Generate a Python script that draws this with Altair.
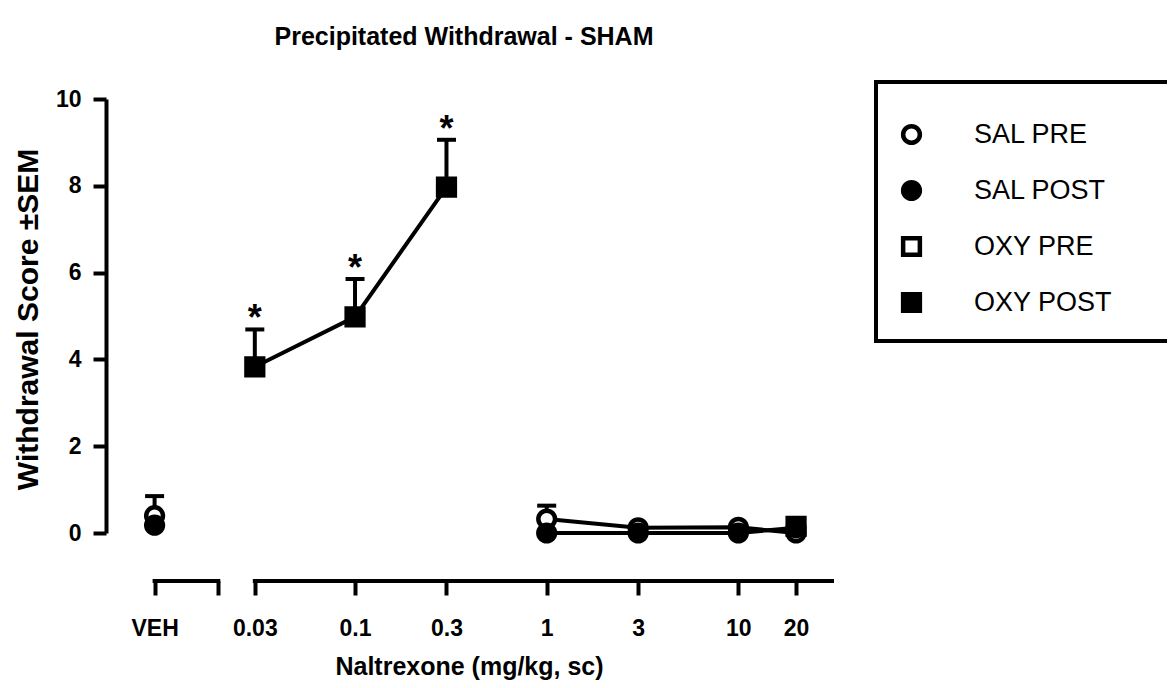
import altair as alt
import pandas as pd

FONT = "Liberation Sans"

# ---- data ----
chart_title = "Precipitated Withdrawal - SHAM"
dose_labels = ["VEH", "0.03", "0.1", "0.3", "1", "3", "10", "20"]
dose_pos = [0.009, 0.03, 0.1, 0.3, 1, 3, 10, 20]          # VEH drawn left of the axis break
dose_group = ["veh", "low", "low", "low", "high", "high", "high", "high"]

series_names = ["SAL PRE", "SAL POST", "OXY PRE", "OXY POST"]
series_fill = ["white", "black", "white", "black"]
series_shape = ["circle", "circle", "square", "square"]
series_stroke = ["black", "black", "black", "black"]

sal_pre = [0.40, None, None, None, 0.32, 0.12, 0.13, 0.00]
sal_pre_sem = [0.45, None, None, None, 0.31, 0.0, 0.0, 0.0]
sal_post = [0.18, None, None, None, 0.00, 0.00, 0.00, 0.12]
sal_post_sem = [0.0, None, None, None, 0.0, 0.0, 0.0, 0.0]
oxy_pre = [None, None, None, None, None, None, None, None]
oxy_pre_sem = [None, None, None, None, None, None, None, None]
oxy_post = [None, 3.83, 4.98, 7.97, None, None, None, 0.15]
oxy_post_sem = [None, 0.86, 0.87, 1.09, None, None, None, 0.0]
oxy_post_sig = [False, True, True, True, False, False, False, False]

# axis ticks (second value is the tick closing the VEH segment of the broken axis)
x_tick_values = [0.009, 0.01935, 0.03, 0.1, 0.3, 1, 3, 10, 20]
x_tick_labels = ["VEH", "", "0.03", "0.1", "0.3", "1", "3", "10", "20"]
x_domain = [0.00502, 30.8]
axis_seg_start = [0.009, 0.03]
axis_seg_end = [0.01935, 30.8]
y_ticks = [0, 2, 4, 6, 8, 10]

# ---- build table ----
rows = []
all_means = [sal_pre, sal_post, oxy_pre, oxy_post]
all_sems = [sal_pre_sem, sal_post_sem, oxy_pre_sem, oxy_post_sem]
for name, means, sems in zip(series_names, all_means, all_sems):
    for i, m in enumerate(means):
        if m is None:
            continue
        s = sems[i] or 0.0
        rows.append({
            "series": name,
            "dose": dose_labels[i],
            "x": dose_pos[i],
            "grp": dose_group[i],
            "y": m,
            "hi": m + s,
            "sem": s,
            "sig": bool(name == "OXY POST" and oxy_post_sig[i]),
        })
df = pd.DataFrame(rows)

W, H = 726, 434
AXIS_OFFSET = 48

label_expr = "{}[indexof({}, datum.value)]".format(
    "[" + ",".join("'%s'" % t for t in x_tick_labels) + "]",
    "[" + ",".join(repr(v) for v in x_tick_values) + "]",
)

x_enc = alt.X(
    "x:Q",
    scale=alt.Scale(type="log", domain=x_domain, nice=False),
    axis=alt.Axis(
        values=x_tick_values, labelExpr=label_expr, domain=False, grid=False,
        offset=AXIS_OFFSET, tickSize=14, tickWidth=4, tickColor="black",
        labelFontSize=23, labelFontWeight="bold", labelFont=FONT, labelColor="black",
        labelPadding=22, labelFlush=False, labelOverlap=False, labelBound=False,
        title="Naltrexone (mg/kg, sc)", titleFontSize=25, titleFontWeight="bold",
        titleFont=FONT, titleColor="black", titlePadding=14,
    ),
)
y_enc = alt.Y(
    "y:Q",
    scale=alt.Scale(domain=[0, 10], nice=False, zero=False),
    axis=alt.Axis(
        values=y_ticks, grid=False, domainColor="black", domainWidth=4,
        tickSize=13, tickWidth=4, tickColor="black",
        labelFontSize=23, labelFontWeight="bold", labelFont=FONT, labelColor="black",
        labelPadding=12, labelFlush=False,
        title="Withdrawal Score ±SEM", titleFontSize=30, titleFontWeight="bold",
        titleFont=FONT, titleColor="black", titleX=-63, titleY=220,
        titleAngle=270, titleBaseline="bottom", titleAlign="center",
    ),
)

base = alt.Chart(df)

lines = base.mark_line(color="black", strokeWidth=4).encode(
    x=x_enc, y=y_enc, detail=["series:N", "grp:N"], order="x:Q"
)

err_df = df[df["sem"] > 0]
err_rule = alt.Chart(err_df).mark_rule(color="black", strokeWidth=4).encode(
    x="x:Q", y="y:Q", y2="hi:Q"
)
err_cap = alt.Chart(err_df).mark_tick(
    color="black", orient="horizontal", size=19, thickness=4, opacity=1
).encode(x="x:Q", y="hi:Q")

legend_cfg = dict(
    title=None, orient="none", legendX=792, legendY=22, padding=0,
    symbolSize=280, symbolStrokeWidth=4.5, symbolStrokeColor="black",
    labelFontSize=27, labelFont=FONT, labelColor="black",
    labelOffset=49, rowPadding=21, labelLimit=400,
)

points = base.mark_point(
    filled=True, strokeWidth=4.5, size=280, opacity=1
).encode(
    x="x:Q",
    y="y:Q",
    shape=alt.Shape(
        "series:N",
        scale=alt.Scale(domain=series_names, range=series_shape),
        legend=alt.Legend(**legend_cfg),
    ),
    fill=alt.Fill(
        "series:N",
        scale=alt.Scale(domain=series_names, range=series_fill),
        legend=alt.Legend(**legend_cfg),
    ),
    stroke=alt.Stroke(
        "series:N",
        scale=alt.Scale(domain=series_names, range=series_stroke),
        legend=alt.Legend(**legend_cfg),
    ),
)

stars = alt.Chart(df[df["sig"]]).mark_text(
    text="*", fontSize=36, fontWeight="bold", font=FONT, color="black",
    baseline="alphabetic", align="center", dy=1
).encode(x="x:Q", y="hi:Q")

axis_line = alt.Chart(
    pd.DataFrame({"start": axis_seg_start, "end": axis_seg_end})
).mark_rule(color="black", strokeWidth=4, strokeCap="square").encode(
    x="start:Q", x2="end:Q", y=alt.value(H + AXIS_OFFSET)
)

legend_box = alt.Chart(pd.DataFrame({"k": [0]})).mark_rect(
    fillOpacity=0, stroke="black", strokeWidth=4
).encode(
    x=alt.value(770), x2=alt.value(1080), y=alt.value(-17), y2=alt.value(242)
)

title_text = alt.Chart(pd.DataFrame({"t": [chart_title]})).mark_text(
    fontSize=25, fontWeight="bold", font=FONT, color="black",
    baseline="alphabetic", align="center"
).encode(text="t:N", x=alt.value(W / 2 - 5), y=alt.value(-54))

chart = alt.layer(
    lines, err_rule, err_cap, points, stars, axis_line, legend_box, title_text
).properties(
    width=W,
    height=H,
    padding={"left": 98, "top": 91, "right": 335, "bottom": 147},
    autosize=alt.AutoSizeParams(type="none"),
    background="white",
).configure(font=FONT).configure_view(strokeWidth=0)

chart.save("out.html", embed_options={"renderer": "svg", "actions": False})
